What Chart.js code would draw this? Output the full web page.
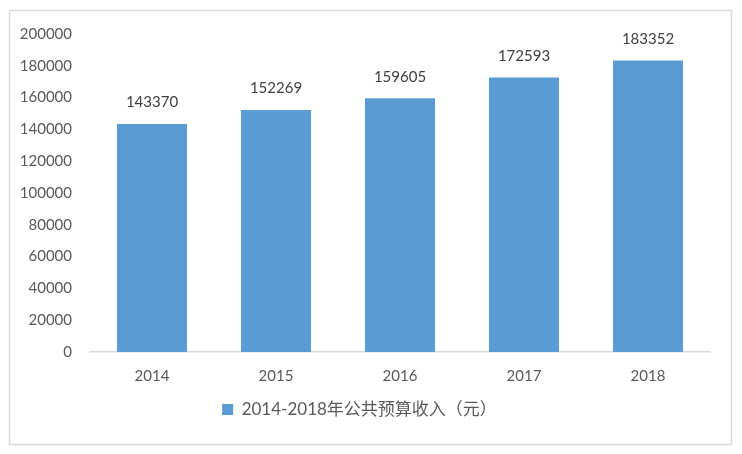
<!DOCTYPE html>
<html><head><meta charset="utf-8">
<script src="https://cdn.jsdelivr.net/npm/chart.js@4/dist/chart.umd.min.js"></script>
<style>html,body{margin:0;padding:0;background:#fff}#w{width:742px;height:454px}</style>
</head><body><div id="w"><canvas id="c" width="742" height="454"></canvas></div>
<script>
const categories = ['2014','2015','2016','2017','2018'];
const revenue = [143370,152269,159605,172593,183352];
const seriesName = '2014-2018年公共预算收入（元）';
const yTicks = {min:0,max:200000,step:20000};

const FONT = "Lato, 'Noto Sans CJK SC', sans-serif";
const TXT = '#595959';

const frame = {
  id:'frame',
  beforeDraw(ch){
    const c=ch.ctx;c.save();c.strokeStyle='#d9d9d9';c.lineWidth=1.5;
    c.strokeRect(9.5,10.5,722,434);c.restore();
  }
};
const valueLabels = {
  id:'valueLabels',
  afterDatasetsDraw(ch){
    const c=ch.ctx;c.save();
    c.font='15px '+FONT;c.fillStyle='#404040';c.textAlign='center';c.textBaseline='bottom';
    ch.getDatasetMeta(0).data.forEach((el,i)=>{
      c.fillText(String(ch.data.datasets[0].data[i]), el.x, el.y-14);
    });
    c.restore();
  }
};

new Chart(document.getElementById('c'),{
  type:'bar',
  data:{labels:categories,datasets:[{label:seriesName,data:revenue,backgroundColor:'#5b9bd5',
    categoryPercentage:1,barPercentage:0.565}]},
  options:{
    responsive:false,animation:false,
    layout:{padding:{left:9,right:32,top:34,bottom:26}},
    plugins:{
      tooltip:{enabled:false},
      legend:{position:'bottom',labels:{font:{size:17,family:FONT},color:TXT,boxWidth:11,boxHeight:11,padding:9}}
    },
    scales:{
      x:{grid:{display:false},border:{display:true,color:'#d9d9d9',width:1.5},
        ticks:{font:{size:15,family:FONT},color:TXT,padding:7}},
      y:{min:yTicks.min,max:yTicks.max,grid:{display:false},border:{display:false},
        ticks:{stepSize:yTicks.step,font:{size:15,family:FONT},color:TXT,padding:10,
          callback:v=>String(v)},
        afterFit(s){s.width=81;}}
    }
  },
  plugins:[frame,valueLabels]
});
</script></body></html>
